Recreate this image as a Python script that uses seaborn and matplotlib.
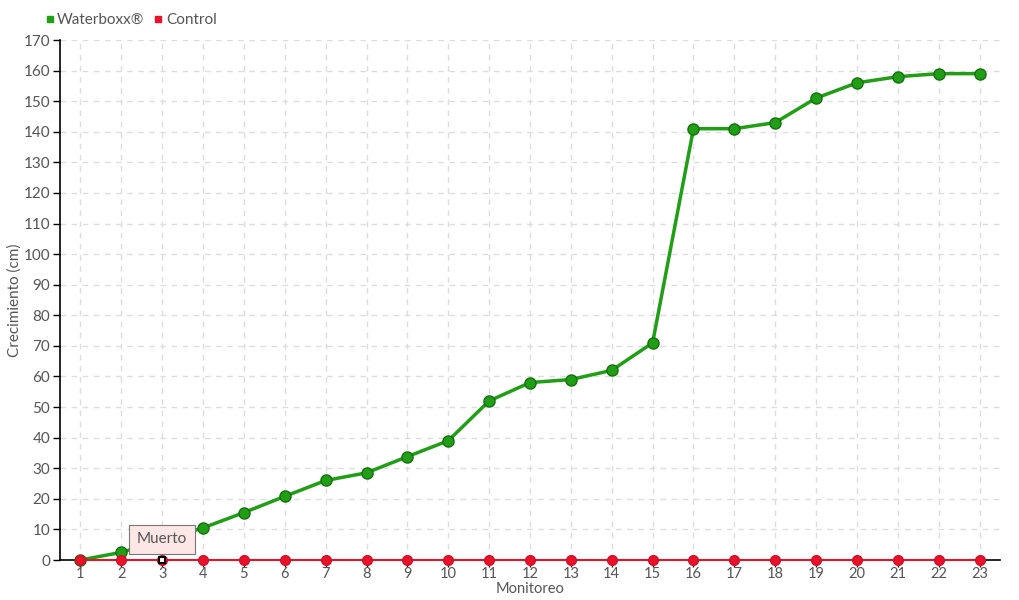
import seaborn as sns
import matplotlib.pyplot as plt
import pandas as pd
from matplotlib.lines import Line2D

# Data
monitoreo = list(range(1, 24))
waterboxx = [0, 2.5, 6.5, 10.5, 15.5, 20.8, 26, 28.5, 33.8, 39, 52, 58, 59, 62, 71,
             141, 141, 143, 151, 156, 158, 159, 159]
control = [0] * 23

df = pd.DataFrame({"Monitoreo": monitoreo * 2,
                   "Crecimiento": waterboxx + control,
                   "Serie": ["Waterboxx®"] * 23 + ["Control"] * 23})

sns.set_style("white")
plt.rcParams['font.family'] = ['Lato', 'DejaVu Sans']

green = '#1f9e16'
red = '#e8132b'
txt = '#555555'

fig = plt.figure(figsize=(10.2, 6), dpi=100)
ax = fig.add_axes([60 / 1020, 40 / 600, 940 / 1020, 520 / 600])

sns.lineplot(data=df, x="Monitoreo", y="Crecimiento", hue="Serie",
             palette={"Waterboxx®": green, "Control": red}, ax=ax,
             linewidth=2.5, marker='o', markersize=8, legend=False)
for ln, ec in zip(ax.lines, ['#17700f', '#d0102a']):
    ln.set_markeredgecolor(ec)
    ln.set_markeredgewidth(1)
    ln.set_clip_on(False)
ax.lines[0].set_zorder(3)
ax.lines[1].set_zorder(4)
ax.lines[1].set_linewidth(1.5)
ax.lines[1].set_markersize(7)

# hollow marker at point 3 of the control series (tooltip anchor)
ax.plot(monitoreo[2], control[2], marker='s', markersize=5, markerfacecolor='white',
        markeredgecolor='black', markeredgewidth=1.5, zorder=6, clip_on=False)
ax.annotate("Muerto", xy=(monitoreo[2], control[2]), xytext=(0, 15), textcoords='offset points',
            ha='center', va='center', fontsize=11, color=txt, zorder=7,
            bbox=dict(boxstyle='square,pad=0.5', fc='#fde6e6', ec='#777777', lw=0.8))

ax.set_xlim(0.5, 23.5)
ax.set_ylim(0, 170)
ax.set_xticks(monitoreo)
ax.set_yticks(range(0, 171, 10))
ax.grid(True, linestyle=(0, (4, 4)), color='#dddddd', linewidth=1)
for s in ['top', 'right']:
    ax.spines[s].set_visible(False)
for s in ['left', 'bottom']:
    ax.spines[s].set_color('black')
    ax.spines[s].set_linewidth(1.2)
ax.tick_params(axis='both', which='both', direction='out', length=5, width=1, colors='black',
               labelcolor=txt, labelsize=11, left=True, bottom=True, pad=2)
ax.tick_params(axis='x', pad=0, labelsize=10.5)
ax.set_xlabel("Monitoreo", fontsize=10.5, color=txt)
ax.set_ylabel("Crecimiento (cm)", fontsize=11, color=txt)
ax.xaxis.set_label_coords(0.5, -22 / 520)
ax.yaxis.set_label_coords(-38 / 940, 0.5)

handles = [Line2D([], [], marker='s', linestyle='', color=green, markersize=5),
           Line2D([], [], marker='s', linestyle='', color=red, markersize=5)]
fig.legend(handles, ["Waterboxx®", "Control"], loc='upper left', bbox_to_anchor=(45 / 1020, 1 - 13 / 600),
           ncol=2, frameon=False, fontsize=11, labelcolor=txt, handlelength=0.6,
           handletextpad=0.2, columnspacing=0.6, borderaxespad=0, borderpad=0)

fig.savefig('out.png', dpi=100)
